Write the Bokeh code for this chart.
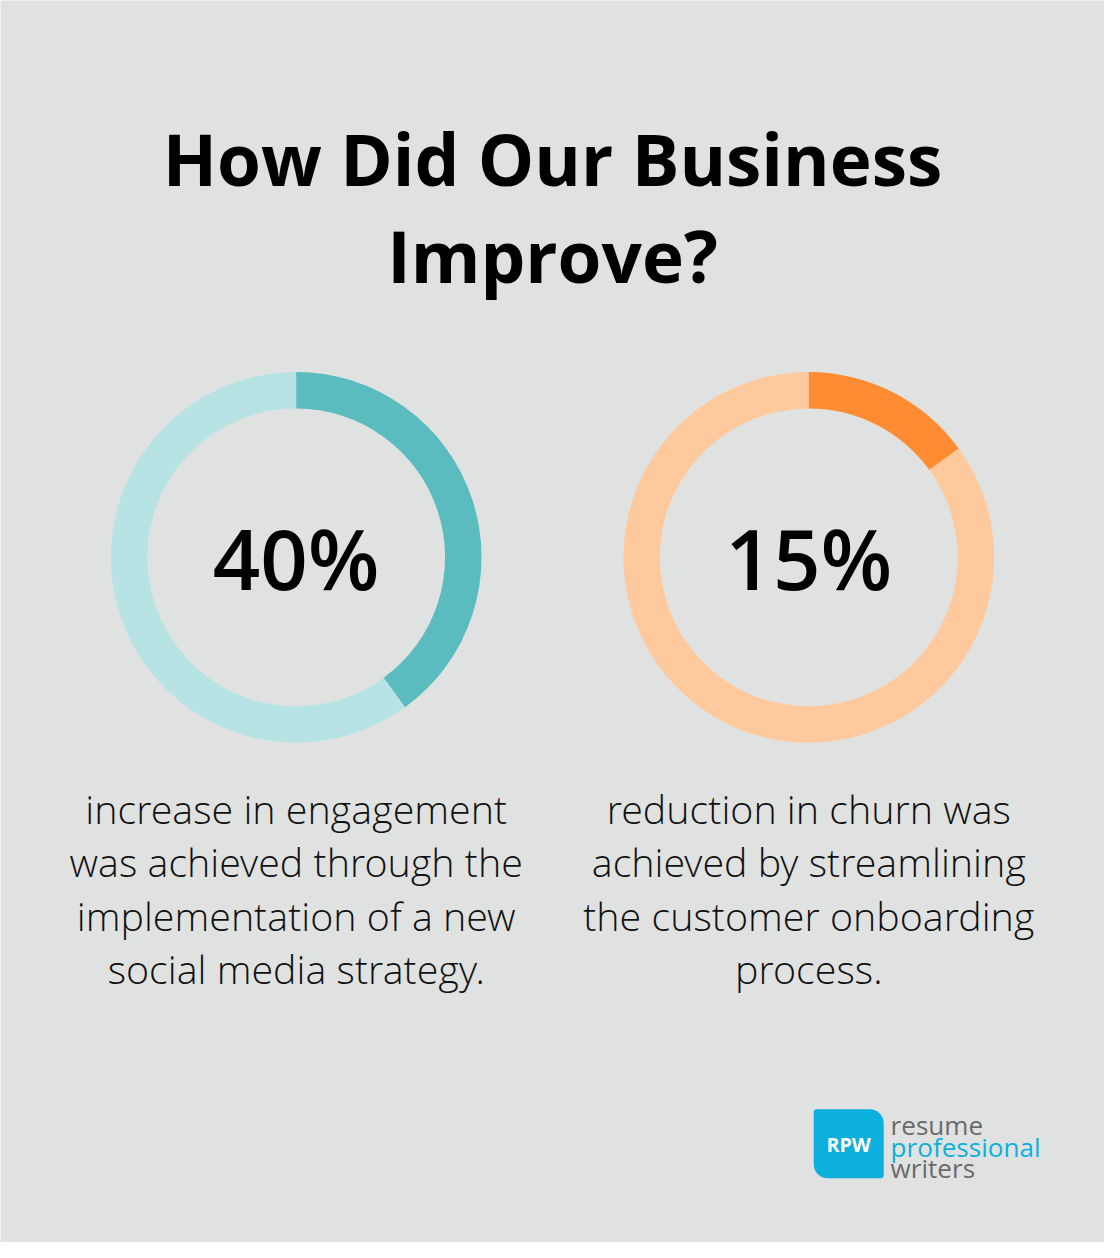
import math
from bokeh.plotting import figure
from bokeh.models import Range1d
from bokeh.core.properties import value
from bokeh.embed import file_html
from bokeh.resources import INLINE

W, H = 1120, 1258
BG = "#E0E2E1"

title_lines = ["How Did Our Business", "Improve?"]
percents = [40, 15]
labels = ["40%", "15%"]
descriptions = [
    ["increase in engagement", "was achieved through the", "implementation of a new", "social media strategy."],
    ["reduction in churn was", "achieved by streamlining", "the customer onboarding", "process."],
]
main_colors = ["#5BBCBF", "#FF8C33"]
light_colors = ["#B8E3E4", "#FFC99E"]
centers_x = [300, 820]

PW, PH = 1104, 1242
S = PW / W  # screen scale for font sizes

def Y(y):
    return H - y

def fs(px):
    return f"{px * S:.1f}px"

p = figure(width=PW, height=PH, x_range=Range1d(0, W), y_range=Range1d(0, H),
           output_backend="svg", toolbar_location=None, min_border=0,
           background_fill_color=BG, border_fill_color=BG)
p.axis.visible = False
p.grid.visible = False
p.outline_line_color = None

FONT = value("Open Sans")
LIGHT = value("'Open Sans Light', 'Open Sans'")
SEMI = value("'Open Sans SemiBold', 'Open Sans'")

# title
for i, t in enumerate(title_lines):
    p.text(x=[560], y=[Y(160 + 98 * i)], text=[t], text_font=FONT, text_font_style="bold",
           text_font_size=fs(72), text_color="#000000", text_align="center", text_baseline="middle")

cy = 564
r_out, r_in = 188, 151
for i, pct in enumerate(percents):
    cx = centers_x[i]
    frac = pct / 100.0
    start = math.pi / 2
    end = start - 2 * math.pi * frac
    p.annular_wedge(x=[cx], y=[Y(cy)], inner_radius=r_in, outer_radius=r_out,
                    start_angle=[end], end_angle=[start - 2 * math.pi], direction="clock",
                    fill_color=light_colors[i], line_color=None)
    p.annular_wedge(x=[cx], y=[Y(cy)], inner_radius=r_in, outer_radius=r_out,
                    start_angle=[start], end_angle=[end], direction="clock",
                    fill_color=main_colors[i], line_color=None)
    p.text(x=[cx], y=[Y(cy)], text=[labels[i]], text_font=SEMI,
           text_font_size=fs(84.5), text_color="#000000", text_align="center", text_baseline="middle")
    for j, line in enumerate(descriptions[i]):
        p.text(x=[cx], y=[Y(819 + 54 * j)], text=[line], text_font=LIGHT,
               text_font_size=fs(40), text_color="#111111", text_align="center", text_baseline="middle")

# logo
p.rect(x=[860.5], y=[Y(1158)], width=71, height=70, fill_color="#0DB0DC", line_color=None,
       border_radius=(3, 14, 3, 14))
p.text(x=[860.5], y=[Y(1159)], text=["RPW"], text_font=FONT, text_font_style="bold",
       text_font_size=fs(20), text_color="#FFFFFF", text_align="center", text_baseline="middle")
logo_words = ["resume", "professional", "writers"]
logo_colors = ["#6B6B6B", "#0DB0DC", "#6B6B6B"]
for k, w in enumerate(logo_words):
    p.text(x=[903], y=[Y(1139 + 22 * k)], text=[w], text_font=FONT,
           text_font_size=fs(26.5), text_color=logo_colors[k], text_align="left", text_baseline="middle")

open("out.html", "w").write(file_html(p, INLINE))
